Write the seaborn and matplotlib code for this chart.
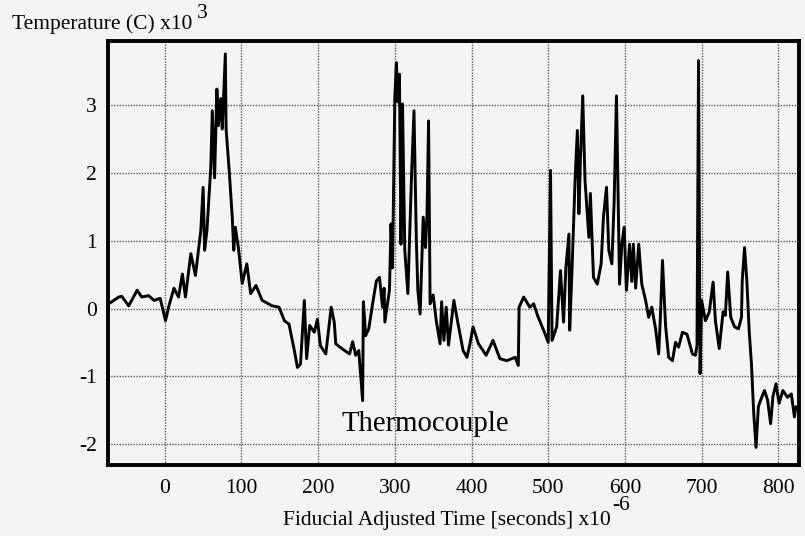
import numpy as np
import pandas as pd
import seaborn as sns
import matplotlib
matplotlib.use("Agg")
import matplotlib.pyplot as plt

# Time in microseconds (fiducial adjusted)
time_us = [
    -73, -60, -56, -47, -36, -30, -21, -14, -6, 1, 5, 12, 18, 23, 27, 34, 40, 44, 47, 50,
    52, 55, 60, 62, 65, 68, 70, 73, 75, 79, 80, 84, 88, 90, 92, 96, 101, 107, 112, 119,
    127, 140, 149, 156, 162, 169, 173, 177, 182, 185, 189, 195, 199, 203, 210, 217, 221, 223, 232, 241,
    245, 249, 253, 258, 259, 262, 266, 271, 276, 280, 284, 286, 287, 293, 295, 297, 300, 302, 304, 306,
    308, 310, 313, 317, 319, 322, 325, 328, 330, 333, 337, 340, 342, 344, 346, 350, 354, 359, 361, 364,
    367, 370, 377, 382, 389, 394, 398, 402, 409, 415, 419, 428, 433, 437, 446, 457, 461, 462, 468, 476,
    481, 487, 494, 500, 503, 505, 511, 516, 520, 523, 527, 528, 531, 535, 538, 540, 542, 545, 548, 553,
    555, 559, 564, 569, 572, 576, 579, 583, 586, 589, 591, 593, 596, 599, 602, 606, 609, 611, 614, 618,
    622, 627, 631, 635, 640, 644, 646, 649, 653, 657, 662, 666, 670, 675, 681, 688, 692, 694, 696, 698,
    700, 705, 710, 715, 718, 723, 728, 731, 734, 738, 743, 748, 752, 753, 756, 759, 762, 765, 768, 771,
    774, 777, 782, 786, 790, 793, 797, 801, 806, 812, 817, 821, 823, 827,
]
# Temperature in units of 10^3 C
temp_k = [
    0.07, 0.17, 0.18, 0.04, 0.27, 0.17, 0.19, 0.12, 0.15, -0.18, 0.02, 0.30, 0.17, 0.51, 0.17, 0.81, 0.49, 0.86, 1.15, 1.79,
    0.86, 1.15, 2.08, 2.92, 1.93, 3.24, 2.70, 3.10, 2.65, 3.76, 2.65, 2.04, 1.35, 0.86, 1.20, 0.90, 0.37, 0.66, 0.22, 0.34,
    0.12, 0.04, 0.02, -0.18, -0.23, -0.62, -0.87, -0.82, 0.12, -0.74, -0.25, -0.35, -0.16, -0.55, -0.67, 0.02, -0.20, -0.52, -0.60, -0.67,
    -0.49, -0.69, -0.62, -1.36, 0.10, -0.40, -0.30, 0.07, 0.41, 0.46, 0.02, 0.30, -0.20, 0.27, 1.25, 0.60, 3.12, 3.63, 3.05, 3.46,
    0.95, 3.02, 0.86, 0.22, 0.95, 2.04, 2.92, 1.03, 0.27, -0.08, 1.35, 0.90, 1.40, 2.77, 0.07, 0.20, -0.18, -0.52, 0.10, -0.47,
    0.02, -0.54, 0.12, -0.20, -0.62, -0.72, -0.52, -0.27, -0.52, -0.62, -0.69, -0.47, -0.62, -0.74, -0.77, -0.72, -0.84, 0.02, 0.17, 0.02,
    0.07, -0.13, -0.32, -0.50, 2.04, -0.47, -0.27, 0.56, -0.20, 0.60, 1.10, -0.32, 0.56, 1.89, 2.63, 1.40, 2.20, 3.14, 1.89, 1.05,
    1.70, 0.46, 0.36, 0.66, 1.35, 1.79, 0.86, 0.66, 1.60, 3.14, 1.70, 0.36, 0.95, 1.20, 0.27, 0.95, 0.40, 0.95, 0.30, 0.95,
    0.36, 0.12, -0.13, 0.02, -0.30, -0.67, -0.20, 0.71, -0.25, -0.72, -0.77, -0.50, -0.57, -0.35, -0.38, -0.67, -0.69, -0.54, 3.66, -0.96,
    0.12, -0.18, -0.05, 0.39, -0.18, -0.59, -0.05, -0.10, 0.54, -0.13, -0.27, -0.30, -0.13, 0.41, 0.90, 0.41, -0.32, -0.82, -1.55, -2.05,
    -1.45, -1.35, -1.21, -1.35, -1.70, -1.30, -1.11, -1.40, -1.21, -1.31, -1.26, -1.60, -1.45, -1.50,
]
x_ticks = [0, 100, 200, 300, 400, 500, 600, 700, 800]
y_ticks = [-2, -1, 0, 1, 2, 3]

df = pd.DataFrame({"time": time_us, "temp": temp_k})

sns.set_theme(style="white")
plt.rcParams["font.family"] = ["Liberation Serif", "DejaVu Serif"]
bg = "#f4f4f4"

fig = plt.figure(figsize=(8.05, 5.36), dpi=100, facecolor=bg)
ax = fig.add_axes([108 / 805, 1 - 465 / 536, (799 - 108) / 805, (465 - 41) / 536])
ax.set_facecolor(bg)

sns.lineplot(data=df, x="time", y="temp", sort=False, color="black", lw=2.1, ax=ax)

ax.set_xlim(-74, 827)
ax.set_ylim(-2.31, 3.95)
ax.set_xticks(x_ticks)
ax.set_yticks(y_ticks)
ax.set_xticklabels([str(v) for v in x_ticks])
ax.set_yticklabels([str(v) for v in y_ticks])
ax.set_xlabel("")
ax.set_ylabel("")
ax.grid(True, color="#5a5a5a", linestyle=(0, (1, 1)), lw=1.0)
ax.set_axisbelow(True)
for s in ax.spines.values():
    s.set_visible(True)
    s.set_color("black")
    s.set_linewidth(2.8)
ax.tick_params(axis="x", direction="in", length=4, width=1, pad=10, labelsize=15.5, colors="black")
ax.tick_params(axis="y", direction="out", length=5, width=1, pad=3, labelsize=15.5, colors="black")

ax.text(340, -1.70, "Thermocouple", fontsize=20.7, ha="center", va="center", color="black")

fig.text(12 / 805, 1 - 24 / 536, "Temperature (C) x10", fontsize=15.5, ha="left", va="center", color="black")
fig.text(197 / 805, 1 - 13 / 536, "3", fontsize=15.5, ha="left", va="center", color="black")
fig.text(447 / 805, 1 - 521 / 536, "Fiducial Adjusted Time [seconds] x10", fontsize=15.5, ha="center", va="center", color="black")
fig.text(612 / 805, 1 - 506 / 536, "-6", fontsize=15.5, ha="left", va="center", color="black")

fig.savefig("out.png", dpi=100, facecolor=bg)
